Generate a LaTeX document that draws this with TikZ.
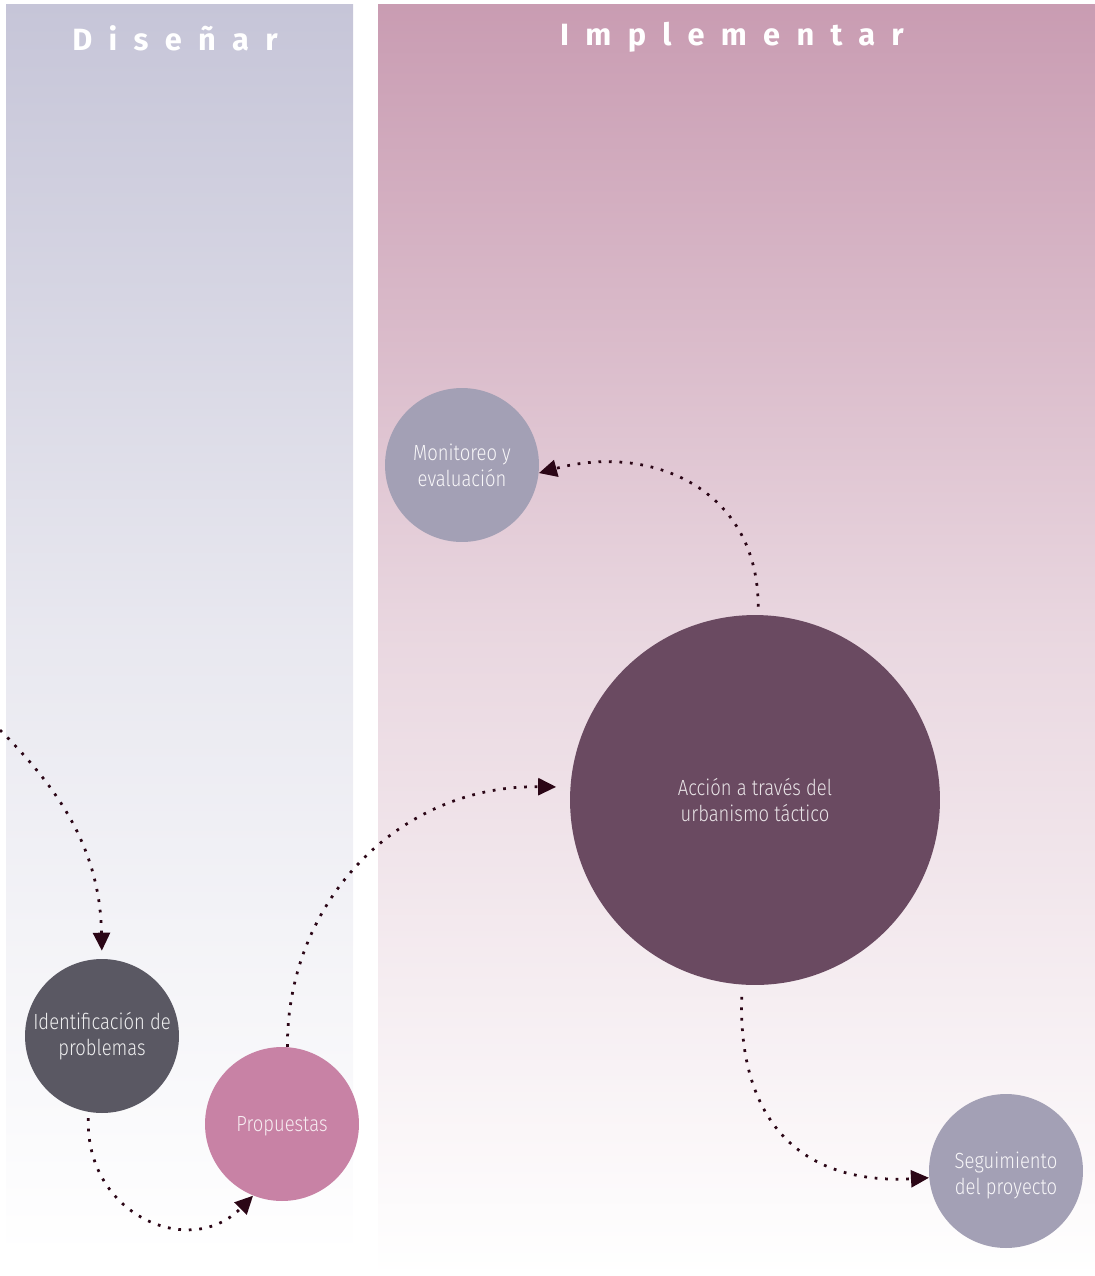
\documentclass[tikz,border=0pt]{standalone}
\usepackage{fontspec}
\IfFontExistsTF{Fira Sans Light}
  {\setmainfont{Fira Sans Light}[FakeStretch=0.84]}
  {\setmainfont{Fira Sans}[FakeStretch=0.84]}
\newfontfamily\headfont{Fira Sans Bold}[LetterSpace=53]
\usepackage{xcolor}
\usepackage{tikz}
\definecolor{designtop}{HTML}{C6C5D8}
\definecolor{impltop}{HTML}{C99CB2}
\definecolor{monitorcolor}{HTML}{A3A0B5}
\definecolor{accioncolor}{HTML}{6A4A61}
\definecolor{identcolor}{HTML}{5A5863}
\definecolor{propcolor}{HTML}{C882A5}
\definecolor{arrowcolor}{HTML}{2B0616}
\usetikzlibrary{arrows.meta, positioning}

\begin{document}
\begin{tikzpicture}[
    x=0.02cm, y=-0.02cm,
    stagecircle/.style={circle, minimum size=3.08cm, inner sep=0pt, align=center, font=\fontsize{12.5}{14.8}\selectfont},
    bigcircle/.style={stagecircle, minimum size=7.4cm},
    headlabel/.style={text=white, font=\headfont\fontsize{17.5}{20}\selectfont},
    flowarrow/.style={draw=arrowcolor, line width=0.055cm, dash pattern=on 0.055cm off 0.155cm, -{Triangle[length=0.36cm, width=0.34cm]}}
]
    \useasboundingbox (0,0) rectangle (1095,1276);

    % panels
    \shade[top color=designtop, bottom color=white, middle color=designtop!40!white] (6,4) rectangle (353,1256);
    \shade[top color=impltop, bottom color=white, middle color=impltop!40!white] (378,4) rectangle (1095,1276);

    \node[headlabel] (disenar) at (175,38) {Diseñar};
    \node[headlabel] (implementar) at (732,37) {Implementar};

    % stages
    \node[stagecircle, fill=monitorcolor, text=white!92!monitorcolor] (monitor) at (462,465) {Monitoreo y\\evaluación};
    \node[bigcircle, fill=accioncolor, text=white!85!accioncolor] (accion) at (755,800) {Acción a través del\\urbanismo táctico};
    \node[stagecircle, fill=identcolor, text=white!90!identcolor] (ident) at (102,1036) {Identificación de\\problemas};
    \node[stagecircle, fill=propcolor, text=white!85!propcolor, text depth=0pt] (prop) at (282,1124) {Propuestas};
    \node[stagecircle, fill=monitorcolor, text=white!92!monitorcolor] (seguim) at (1006,1171) {\rule{0pt}{15pt}Seguimiento\\del proyecto};

    \coordinate (offleft) at (0,730);

    % connectors
    \draw[flowarrow, shorten >=0.16cm] (offleft) .. controls (60,790) and (100,850) .. (ident.north);
    \draw[flowarrow, shorten <=0.12cm] (ident.-100) .. controls (85,1215) and (190,1260) .. (prop.248);
    \draw[flowarrow, shorten >=0.28cm] (prop.86) .. controls (287,900) and (400,785) .. (accion.176);
    \draw[flowarrow, shorten <=0.16cm] (accion.89) .. controls (758,488) and (650,443) .. (monitor.-6);
    \draw[flowarrow, shorten <=0.24cm] (accion.-94) .. controls (738,1120) and (800,1185) .. (seguim.185);
\end{tikzpicture}
\end{document}
